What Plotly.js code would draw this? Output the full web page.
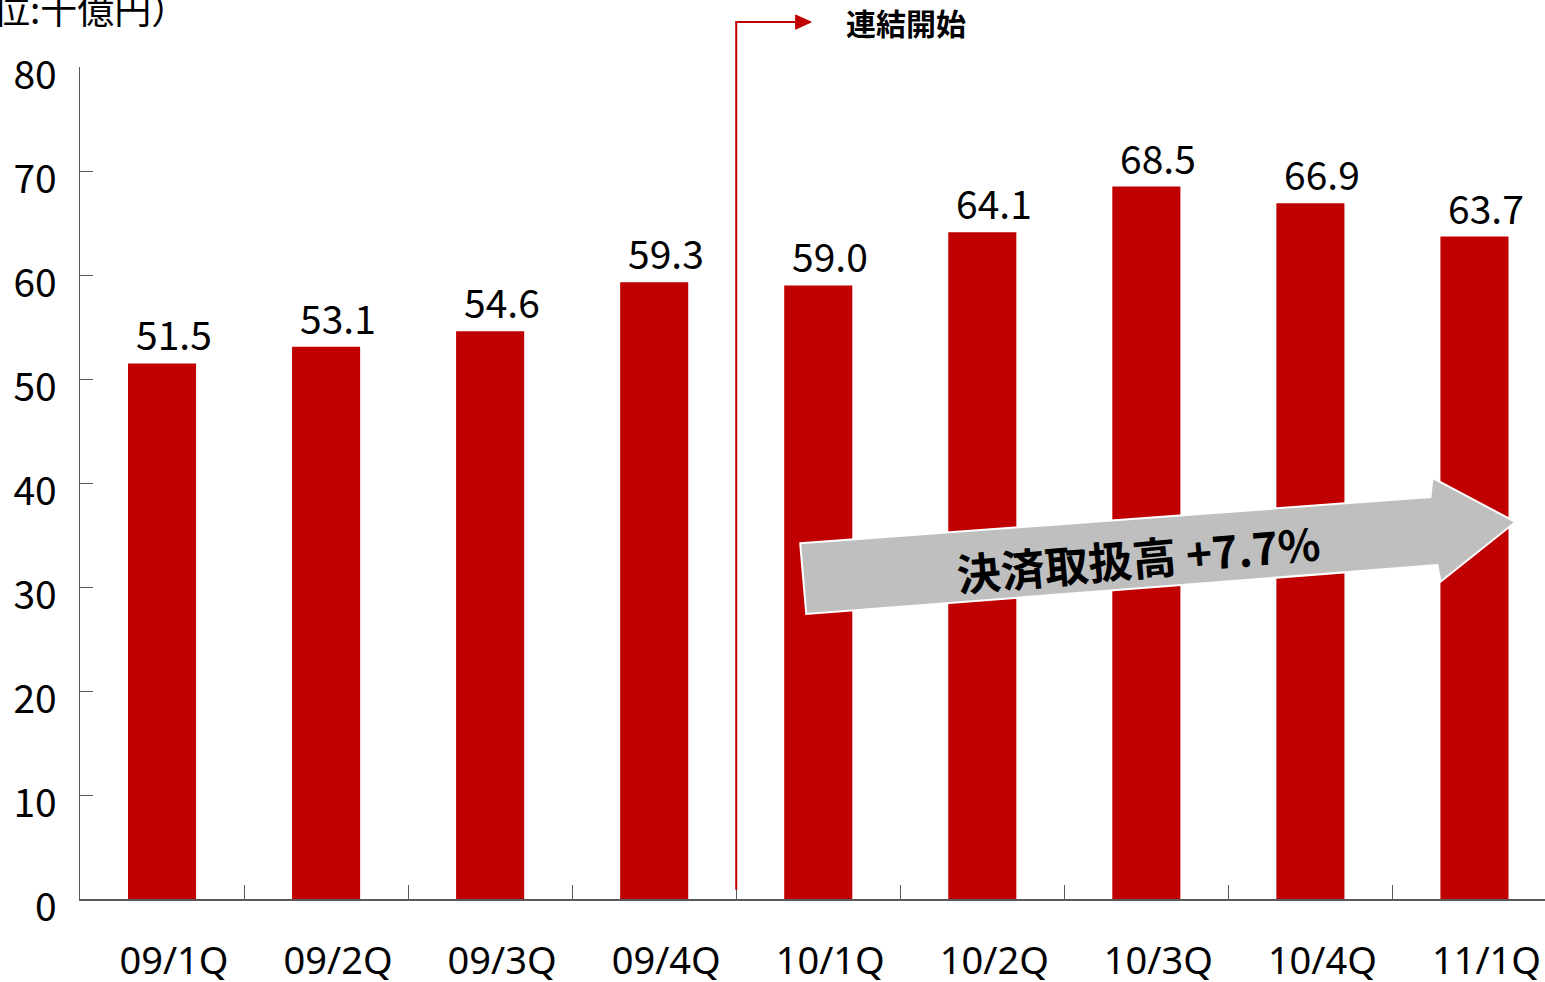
<!DOCTYPE html>
<html><head><meta charset="utf-8">
<script src="https://cdn.plot.ly/plotly-3.0.1.min.js"></script>
<style>html,body{margin:0;padding:0;background:#fff;}#chart{width:1545px;height:982px;}</style>
</head><body><div id="chart"></div>
<script>
const categories = ["09/1Q","09/2Q","09/3Q","09/4Q","10/1Q","10/2Q","10/3Q","10/4Q","11/1Q"];
const values = [51.5, 53.1, 54.6, 59.3, 59.0, 64.1, 68.5, 66.9, 63.7];
const valueLabels = ["51.5","53.1","54.6","59.3","59.0","64.1","68.5","66.9","63.7"];
const yTicks = [0,10,20,30,40,50,60,70,80];
const unitLabel = "（単位:千億円）";
const consolidationLabel = "連結開始";
const growthLabel = "決済取扱高 +7.7%";

const FONT = '"Noto Sans CJK JP", "Noto Sans", sans-serif';
const LATIN = '"Noto Sans", "Noto Sans CJK JP", sans-serif';
const RED = '#c00000';

const trace = {
  type: 'bar', x: categories, y: values,
  marker: {color: RED, line: {width: 0}},
  width: 0.415, hoverinfo: 'skip'
};

// gray arrow polygon (x in category index units, y in data units)
const arrowPts = [[3.890,34.2],[7.732,38.65],[7.744,40.5],[8.250,36.25],[7.793,30.5],[7.774,32.1],[3.927,27.4]];
const arrowPath = 'M ' + arrowPts.map(p => p[0] + ',' + p[1]).join(' L ') + ' Z';

const valueAnnotations = categories.map((c, i) => ({
  xref: 'x', yref: 'y', x: c, y: values[i], xanchor: 'center', yanchor: 'bottom',
  xshift: 12, yshift: 0, text: valueLabels[i], showarrow: false,
  font: {family: FONT, size: 39, color: '#000'}
}));

const layout = {
  width: 1545, height: 982,
  margin: {l: 80, r: 0, t: 67, b: 83},
  paper_bgcolor: '#fff', plot_bgcolor: '#fff',
  showlegend: false,
  xaxis: {
    type: 'category', range: [-0.5, 8.43],
    tickson: 'boundaries', ticks: 'inside', ticklen: 14, tickcolor: '#595959', tickwidth: 1,
    showline: true, linecolor: '#595959', linewidth: 1.5,
    showgrid: false, zeroline: false,
    tickfont: {family: LATIN, size: 38, color: '#000'},
    ticklabelstandoff: 28, ticklabelshift: 12
  },
  yaxis: {
    range: [0, 80], tickvals: yTicks, ticktext: yTicks.map(String),
    ticks: 'inside', ticklen: 13, tickcolor: '#595959', tickwidth: 1,
    showline: true, linecolor: '#595959', linewidth: 1.5,
    showgrid: false, zeroline: false,
    tickfont: {family: FONT, size: 39, color: '#000'},
    ticklabelstandoff: 14, ticklabelshift: 8
  },
  shapes: [
    {type: 'path', xref: 'x', yref: 'paper',
     path: 'M 3.5,0.011 L 3.5,1.054 L 3.87,1.054',
     line: {color: RED, width: 2}},
    {type: 'path', xref: 'x', yref: 'paper',
     path: 'M 3.862,1.0625 L 3.957,1.054 L 3.862,1.0455 Z',
     fillcolor: RED, line: {color: RED, width: 1}},
    {type: 'path', xref: 'x', yref: 'y', path: arrowPath,
     fillcolor: '#bfbfbf', line: {color: '#ffffff', width: 2}, layer: 'above'}
  ],
  annotations: valueAnnotations.concat([
    {xref: 'paper', yref: 'paper', x: 0.075, y: 1.071, xanchor: 'right', yanchor: 'middle',
     text: unitLabel, showarrow: false, font: {family: FONT, size: 37, color: '#000'}},
    {xref: 'x', yref: 'paper', x: 4.16, y: 1.054, xanchor: 'left', yanchor: 'middle',
     text: '<b>' + consolidationLabel + '</b>', showarrow: false,
     font: {family: FONT, size: 30, color: '#000'}},
    {xref: 'x', yref: 'y', x: 5.95, y: 32.9, xanchor: 'center', yanchor: 'middle',
     text: '<b>' + growthLabel + '</b>', showarrow: false, textangle: -5,
     font: {family: FONT, size: 44, color: '#000'}}
  ])
};

Plotly.newPlot('chart', [trace], layout, {displayModeBar: false, staticPlot: true});
</script></body></html>
